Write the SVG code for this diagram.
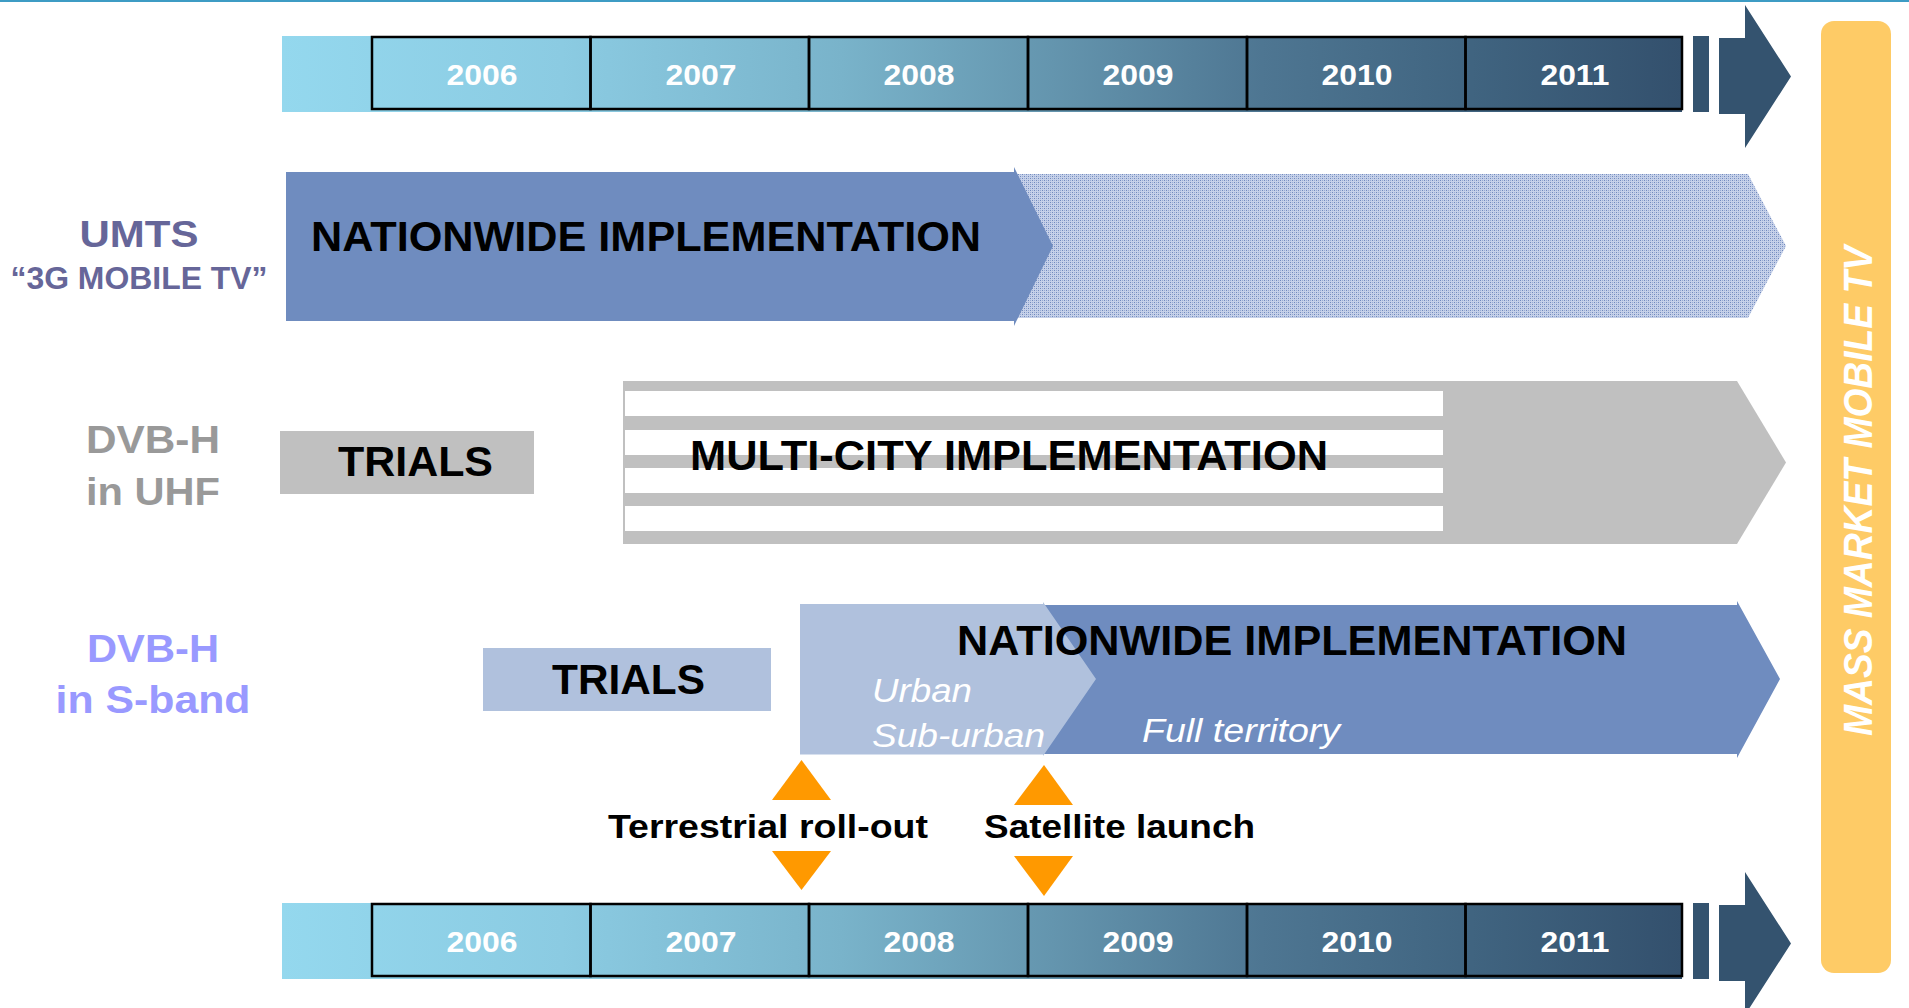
<svg xmlns="http://www.w3.org/2000/svg" width="1909" height="1008" viewBox="0 0 1909 1008">
<defs>
  <linearGradient id="tl" gradientUnits="userSpaceOnUse" x1="282" y1="0" x2="1682" y2="0">
    <stop offset="0" stop-color="#94d8ee"/>
    <stop offset="0.2" stop-color="#8bcbe2"/>
    <stop offset="0.4" stop-color="#79b3ca"/>
    <stop offset="0.55" stop-color="#6495ae"/>
    <stop offset="0.7" stop-color="#4e7692"/>
    <stop offset="0.85" stop-color="#406480"/>
    <stop offset="1" stop-color="#33506d"/>
  </linearGradient>
  <pattern id="hatch" width="4" height="4" patternUnits="userSpaceOnUse">
    <rect width="4" height="4" fill="#c6d1e9"/>
    <rect x="0" y="0" width="1" height="1" fill="#7089bd"/>
    <rect x="2" y="2" width="1" height="1" fill="#7089bd"/>
    <rect x="2" y="0" width="1" height="1" fill="#98abd4"/>
    <rect x="0" y="2" width="1" height="1" fill="#98abd4"/>
  </pattern>
  <g id="timeline">
    <rect x="282" y="0" width="1400" height="76" fill="url(#tl)"/>
    <rect x="372" y="1" width="218.5" height="72" class="yb"/>
    <rect x="590.5" y="1" width="218.5" height="72" class="yb"/>
    <rect x="809" y="1" width="219" height="72" class="yb"/>
    <rect x="1028" y="1" width="219" height="72" class="yb"/>
    <rect x="1247" y="1" width="218.5" height="72" class="yb"/>
    <rect x="1465.5" y="1" width="216.5" height="72" class="yb"/>
    <text class="yr" x="482" y="49" textLength="71" lengthAdjust="spacingAndGlyphs">2006</text>
    <text class="yr" x="701" y="49" textLength="71" lengthAdjust="spacingAndGlyphs">2007</text>
    <text class="yr" x="919" y="49" textLength="71" lengthAdjust="spacingAndGlyphs">2008</text>
    <text class="yr" x="1138" y="49" textLength="71" lengthAdjust="spacingAndGlyphs">2009</text>
    <text class="yr" x="1357" y="49" textLength="71" lengthAdjust="spacingAndGlyphs">2010</text>
    <text class="yr" x="1575" y="49" textLength="69" lengthAdjust="spacingAndGlyphs">2011</text>
    <rect x="1693" y="0" width="16" height="76" fill="#34536f"/>
    <polygon points="1719,2 1745,2 1745,-31 1791,40.5 1745,112 1745,78 1719,78" fill="#34536f"/>
  </g>
</defs>
<style>
  text { font-family: "Liberation Sans", Arial, sans-serif; }
  .yb { fill: none; stroke: #000; stroke-width: 2.5; }
  .yr { fill: #fff; font-weight: bold; font-size: 30px; text-anchor: middle; }
  .big { fill: #000; font-weight: bold; font-size: 42px; }
  .lbl { font-weight: bold; text-anchor: middle; }
  .it { fill: #fff; font-style: italic; font-size: 34px; }
  .ms { fill: #000; font-weight: bold; font-size: 33px; }
  .tri { fill: #ff9900; }
</style>

<rect x="0" y="0" width="1909" height="2" fill="#3d9cc4"/>

<g id="timeline-top">
  <use href="#timeline" transform="translate(0,36)"/>
</g>
<g id="timeline-bottom">
  <use href="#timeline" transform="translate(0,903)"/>
</g>

<g id="mass-market">
  <rect x="1821" y="21" width="70" height="952" rx="13" fill="#fecb66"/>
  <text transform="translate(1872,491) rotate(-90)" text-anchor="middle" font-weight="bold" font-style="italic" font-size="40" fill="#fff" textLength="490" lengthAdjust="spacingAndGlyphs">MASS MARKET MOBILE TV</text>
</g>

<g id="umts-label">
  <text class="lbl" x="139" y="247" font-size="37" fill="#666699" textLength="119" lengthAdjust="spacingAndGlyphs">UMTS</text>
  <text class="lbl" x="139" y="289" font-size="32" fill="#666699" textLength="257" lengthAdjust="spacingAndGlyphs">“3G MOBILE TV”</text>
</g>
<g id="umts-future">
  <polygon points="1010,174 1748,174 1786,246 1748,318 1010,318" fill="url(#hatch)"/>
</g>
<g id="umts-nationwide">
  <polygon points="286,172 1014,172 1014,167 1053,246 1014,326 1014,321 286,321" fill="#6f8cbf"/>
  <text class="big" x="311" y="251" textLength="670" lengthAdjust="spacingAndGlyphs">NATIONWIDE IMPLEMENTATION</text>
</g>

<g id="uhf-label">
  <text class="lbl" x="153" y="453" font-size="38" fill="#999999" textLength="134" lengthAdjust="spacingAndGlyphs">DVB-H</text>
  <text class="lbl" x="153" y="505" font-size="38" fill="#999999" textLength="134" lengthAdjust="spacingAndGlyphs">in UHF</text>
</g>
<g id="uhf-trials">
  <rect x="280" y="431" width="254" height="63" fill="#c0c0c0"/>
  <text class="big" x="338" y="476" font-size="43" textLength="155" lengthAdjust="spacingAndGlyphs">TRIALS</text>
</g>
<g id="uhf-multicity">
  <polygon points="623,381 1737,381 1786,462.5 1737,544 623,544" fill="#c0c0c0"/>
  <rect x="625" y="391" width="818" height="25" fill="#fff"/>
  <rect x="625" y="430" width="818" height="25" fill="#fff"/>
  <rect x="625" y="468" width="818" height="25" fill="#fff"/>
  <rect x="625" y="506" width="818" height="25" fill="#fff"/>
  <text class="big" x="690" y="470" font-size="43" textLength="638" lengthAdjust="spacingAndGlyphs">MULTI-CITY IMPLEMENTATION</text>
</g>

<g id="sband-label">
  <text class="lbl" x="153" y="662" font-size="39" fill="#9999ff" textLength="132" lengthAdjust="spacingAndGlyphs">DVB-H</text>
  <text class="lbl" x="153" y="713" font-size="39" fill="#9999ff" textLength="195" lengthAdjust="spacingAndGlyphs">in S-band</text>
</g>
<g id="sband-trials">
  <rect x="483" y="648" width="288" height="63" fill="#b0c1dd"/>
  <text class="big" x="552" y="694" textLength="153" lengthAdjust="spacingAndGlyphs">TRIALS</text>
</g>
<g id="sband-nationwide">
  <polygon points="1040,605 1737,605 1737,601 1780,679 1737,758 1737,754 1040,754" fill="#6f8cbf"/>
  <text class="it" x="1142" y="742" textLength="198" lengthAdjust="spacingAndGlyphs">Full territory</text>
</g>
<g id="sband-urban">
  <polygon points="800,604 1043,604 1043,602 1096,679 1043,756 1043,754.5 800,754.5" fill="#b0c1dd"/>
  <text class="it" x="872" y="702" textLength="100" lengthAdjust="spacingAndGlyphs">Urban</text>
  <text class="it" x="872" y="747" textLength="173" lengthAdjust="spacingAndGlyphs">Sub-urban</text>
</g>
<g id="sband-title">
  <text class="big" x="957" y="655" textLength="670" lengthAdjust="spacingAndGlyphs">NATIONWIDE IMPLEMENTATION</text>
</g>

<g id="milestone-terrestrial">
  <polygon class="tri" points="801.5,760 831,800 772,800"/>
  <text class="ms" x="608" y="838" textLength="320" lengthAdjust="spacingAndGlyphs">Terrestrial roll-out</text>
  <polygon class="tri" points="772,851 831,851 801.5,890"/>
</g>
<g id="milestone-satellite">
  <polygon class="tri" points="1044,765 1073,805 1014,805"/>
  <text class="ms" x="984" y="838" textLength="271" lengthAdjust="spacingAndGlyphs">Satellite launch</text>
  <polygon class="tri" points="1014,856 1073,856 1044,896"/>
</g>

<g id="connectors"/>
</svg>
